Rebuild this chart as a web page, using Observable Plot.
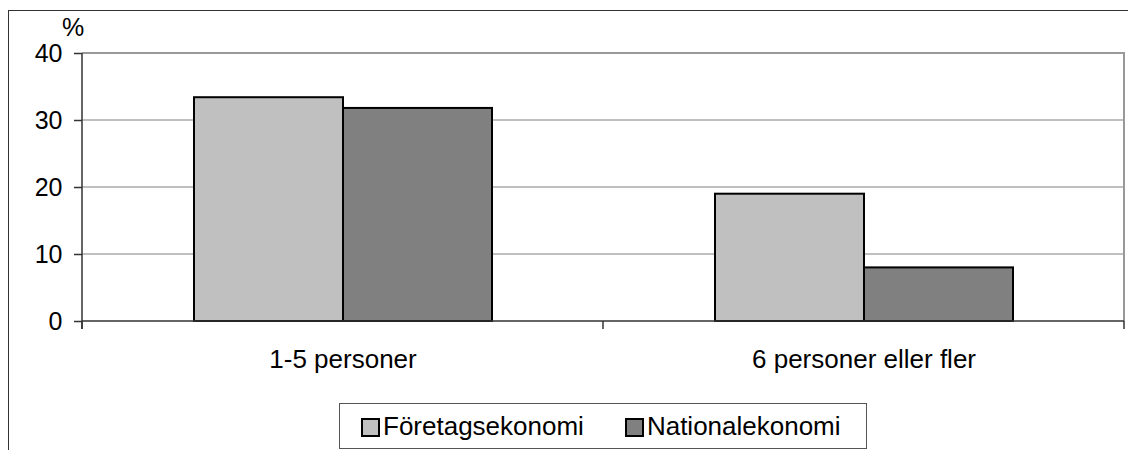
<!DOCTYPE html>
<html>
<head>
<meta charset="utf-8">
<script src="https://cdn.jsdelivr.net/npm/d3@7"></script>
<script src="https://cdn.jsdelivr.net/npm/@observablehq/plot@0.6"></script>
<style>
  html, body { margin: 0; padding: 0; background: #fff; }
  #wrap { position: relative; width: 1128px; height: 450px; overflow: hidden; font-family: "Liberation Sans", Arial, sans-serif; }
  #outer { position: absolute; left: 8px; top: 10px; width: 1200px; height: 600px; border: 1.5px solid #333; box-sizing: border-box; }
  #chart { position: absolute; left: 0; top: 0; }
  #legend { position: absolute; left: 339px; top: 403px; width: 528px; height: 46px; box-sizing: border-box;
            border: 1.5px solid #555; background: #fff; display: flex; align-items: center; justify-content: flex-start;
            padding-left: 21px; gap: 41px; white-space: nowrap; }
  .item { display: flex; align-items: center; font-size: 26px; color: #000; }
  .sw { width: 19px; height: 19px; box-sizing: border-box; border: 2px solid #000; margin-right: 3px; margin-top: 3px; }
</style>
</head>
<body>
<div id="wrap">
  <div id="outer"></div>
  <div id="chart"></div>
  <div id="legend"></div>
</div>
<script>
const categories = ["1-5 personer", "6 personer eller fler"];
const series = ["Företagsekonomi", "Nationalekonomi"];
const foretagValues = [33.4, 19.0];
const nationalValues = [31.8, 8.0];
const yTicks = [0, 10, 20, 30, 40];
const yUnit = "%";
const colors = ["#c0c0c0", "#808080"];

const data = categories.flatMap((c, i) => [
  {cat: c, series: series[0], value: foretagValues[i]},
  {cat: c, series: series[1], value: nationalValues[i]}
]);

function edgesFrom(dimensions) {
  const {width, marginLeft, marginRight} = dimensions;
  const step = (width - marginLeft - marginRight) / categories.length;
  return d3.range(categories.length + 1).map(i => marginLeft + i * step);
}

function gridRender(index, scales, values, dimensions) {
  const e = edgesFrom(dimensions);
  const y = scales.y;
  const g = d3.create("svg:g");
  const top = d3.max(yTicks);
  yTicks.filter(t => t > 0 && t < top).forEach(t => {
    g.append("line").attr("x1", e[0]).attr("x2", e[e.length - 1])
      .attr("y1", y(t)).attr("y2", y(t)).attr("stroke", "#808080").attr("stroke-width", 1);
  });
  return g.node();
}

function chromeRender(index, scales, values, dimensions) {
  const e = edgesFrom(dimensions);
  const y = scales.y;
  const y0 = y(0), yTop = y(d3.max(yTicks));
  const xL = e[0], xR = e[e.length - 1];
  const g = d3.create("svg:g");
  g.append("line").attr("x1", xL).attr("x2", xR + 1).attr("y1", yTop).attr("y2", yTop)
    .attr("stroke", "#999").attr("stroke-width", 2);
  g.append("line").attr("x1", xR).attr("x2", xR).attr("y1", yTop).attr("y2", y0)
    .attr("stroke", "#999").attr("stroke-width", 2);
  g.append("line").attr("x1", xL).attr("x2", xR).attr("y1", y0).attr("y2", y0)
    .attr("stroke", "#333").attr("stroke-width", 1.5);
  g.append("line").attr("x1", xL).attr("x2", xL).attr("y1", yTop).attr("y2", y0 + 8)
    .attr("stroke", "#333").attr("stroke-width", 1.5);
  e.forEach(x => {
    g.append("line").attr("x1", x).attr("x2", x).attr("y1", y0).attr("y2", y0 + 8)
      .attr("stroke", "#333").attr("stroke-width", 1.5);
  });
  g.append("text").attr("x", xL - 9).attr("y", yTop - 17).attr("fill", "#000")
    .attr("font-size", 25).text(yUnit);
  return g.node();
}

const chart = Plot.plot({
  width: 1128,
  height: 400,
  marginLeft: 82,
  marginRight: 4,
  marginTop: 53,
  marginBottom: 79,
  style: {fontFamily: "'Liberation Sans', Arial, sans-serif", fontSize: "26px", color: "#000", background: "transparent", overflow: "visible"},
  fx: {domain: categories, padding: 0},
  x: {domain: series, paddingInner: 0, paddingOuter: 0.748, axis: null},
  y: {domain: [0, 40], ticks: yTicks},
  color: {domain: series, range: colors},
  marks: [
    Plot.frame({stroke: "none", facet: "super", render: gridRender}),
    Plot.barY(data, {fx: "cat", x: "series", y: "value", fill: "series", stroke: "#000", strokeWidth: 2}),
    Plot.frame({stroke: "none", facet: "super", render: chromeRender}),
    Plot.axisY({ticks: yTicks, tickSize: 8, tickPadding: 12, stroke: "#333", strokeWidth: 1.5, fill: "#000",
                fontSize: 25, label: null}),
    Plot.axisFx({anchor: "bottom", tickSize: 0, stroke: "none", tickPadding: 28, fontSize: 26, fill: "#000", label: null})
  ]
});
document.getElementById("chart").appendChild(chart);

const legend = document.getElementById("legend");
series.forEach((s, i) => {
  const item = document.createElement("div");
  item.className = "item";
  const sw = document.createElement("span");
  sw.className = "sw";
  sw.style.background = colors[i];
  const t = document.createElement("span");
  t.textContent = s;
  item.appendChild(sw);
  item.appendChild(t);
  legend.appendChild(item);
});
</script>
</body>
</html>
